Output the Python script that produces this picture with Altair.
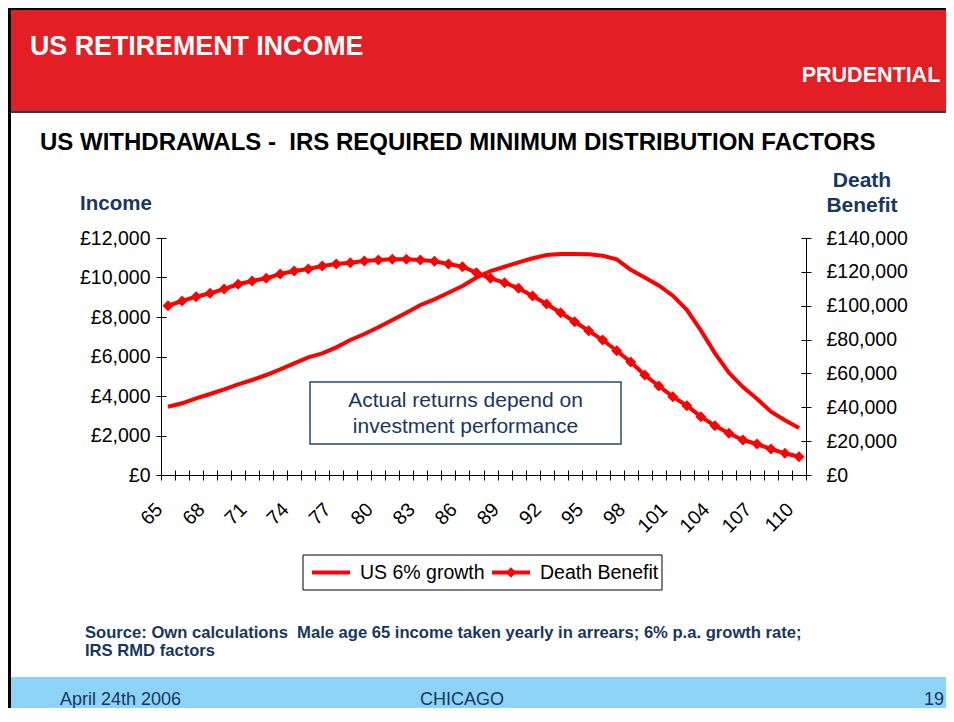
import altair as alt
import pandas as pd

# ---------------- data ----------------
ages = list(range(65, 111))
income = [3458, 3630, 3883, 4101, 4339, 4592, 4810, 5063, 5352, 5655, 5959, 6162,
          6465, 6835, 7139, 7478, 7848, 8217, 8607, 8896, 9230, 9569, 10000,
          10329, 10546, 10769, 10972, 11139, 11189, 11189, 11174, 11103, 10921, 10390,
          10000, 9600, 9080, 8360, 7320, 6170, 5180, 4450, 3860, 3210, 2770, 2385]
death_benefit = [100000, 102780, 105320, 107330, 109870, 112650, 114600, 116190, 118730,
                 120500, 121680, 123460, 124640, 125400, 126410, 127000, 127410, 127410,
                 127000, 126230, 124640, 123040, 119500, 116190, 113590, 110280, 105740,
                 101010, 95870, 90550, 85240, 79740, 73420, 66750, 59070, 52570, 46250,
                 40940, 34440, 29120, 24630, 20670, 18310, 15360, 12820, 10810]
series_names = ["US 6% growth", "Death Benefit"]
income_ticks = [0, 2000, 4000, 6000, 8000, 10000, 12000]
death_ticks = [0, 20000, 40000, 60000, 80000, 100000, 120000, 140000]

NB = "\u00a0"
header_title = "US RETIREMENT INCOME"
logo_text = "PRUDENTIAL"
subtitle = "US WITHDRAWALS -" + NB + " IRS REQUIRED MINIMUM DISTRIBUTION FACTORS"
left_title = "Income"
right_title = ["Death", "Benefit"]
note_lines = ["Actual returns depend on", "investment performance"]
source_lines = ["Source: Own calculations" + NB + " Male age 65 income taken yearly in arrears; 6% p.a. growth rate;",
                "IRS RMD factors"]
footer_left, footer_mid, footer_right = "April 24th 2006", "CHICAGO", "19"

df = pd.DataFrame({"age": ages, "income": income, "death": death_benefit})

FONT = "Liberation Sans"
NAVY = "#17375E"
RED = "#FF0000"
W, H = 645, 237
PAD_L, PAD_T, PAD_R, PAD_B = 153, 230, 140, 233
X0, X1 = -PAD_L, W + PAD_R
Y0, Y1 = -PAD_T, H + PAD_B


def one(text=""):
    return pd.DataFrame({"t": [text]})


def rect(x, x2, y, y2, fill, stroke="transparent", sw=0):
    return alt.Chart(one()).mark_rect(fill=fill, stroke=stroke, strokeWidth=sw).encode(
        x=alt.value(x), x2=alt.value(x2), y=alt.value(y), y2=alt.value(y2))


def text(t, x, y, size, color, weight="normal", align="left"):
    return alt.Chart(one(t)).mark_text(
        align=align, baseline="middle", font=FONT, fontSize=size,
        fontWeight=weight, color=color).encode(
        x=alt.value(x), y=alt.value(y), text="t:N")


def hrule(x, x2, y, color, sw):
    return alt.Chart(one()).mark_rule(color=color, strokeWidth=sw).encode(
        x=alt.value(x), x2=alt.value(x2), y=alt.value(y))


x_scale = alt.Scale(type="band", paddingInner=0, paddingOuter=0)
x_main = alt.X(
    "age:O", scale=x_scale,
    axis=alt.Axis(
        title=None, tickBand="extent", labelAngle=-45, labelAlign="right",
        labelBaseline="middle", labelOverlap=False,
        labelExpr="(datum.value - 65) % 3 == 0 ? datum.label : ''",
        labelPadding=26, labelOffset=-9, tickSize=5, domainColor="black",
        tickColor="black", labelColor="black", labelFont=FONT, labelFontSize=19.5),
)
x_none = alt.X("age:O", scale=x_scale, axis=None)

inc_scale = alt.Scale(domain=[0, 12000], nice=False)
dth_scale = alt.Scale(domain=[0, 140000], nice=False)
money = "'£' + format(datum.value, ',')"

income_line = alt.Chart(df).mark_line(color=RED, strokeWidth=4).encode(
    x=x_main,
    y=alt.Y("income:Q", scale=inc_scale,
            axis=alt.Axis(orient="left", title=None, values=income_ticks,
                          labelExpr=money, tickSize=5, labelPadding=6,
                          domainColor="black", tickColor="black",
                          labelColor="black", labelFont=FONT, labelFontSize=19.5,
                          grid=False)),
)

death_line = alt.Chart(df).mark_line(
    color=RED, strokeWidth=4,
    point=alt.OverlayMarkDef(shape="diamond", size=120, filled=True, color=RED)).encode(
    x=x_none,
    y=alt.Y("death:Q", scale=dth_scale,
            axis=alt.Axis(orient="right", title=None, values=death_ticks,
                          labelExpr=money, tickSize=5, labelPadding=15,
                          domainColor="black", tickColor="black",
                          labelColor="black", labelFont=FONT, labelFontSize=19.5,
                          grid=False)),
)

# inner halves of the crossing tick marks
inner_x = alt.Chart(df).mark_line(opacity=0).encode(
    x=alt.X("age:O", scale=x_scale,
            axis=alt.Axis(orient="top", offset=-H, labels=False, domain=False,
                          tickBand="extent", tickSize=5, tickColor="black", title=None)),
    y=alt.Y("income:Q", scale=inc_scale, axis=None),
)
inner_left = alt.Chart(df).mark_line(opacity=0).encode(
    x=x_none,
    y=alt.Y("income:Q", scale=inc_scale,
            axis=alt.Axis(orient="right", offset=-W, labels=False, domain=False,
                          values=income_ticks, tickSize=5, tickColor="black",
                          title=None, grid=False)),
)
inner_right = alt.Chart(df).mark_line(opacity=0).encode(
    x=x_none,
    y=alt.Y("death:Q", scale=dth_scale,
            axis=alt.Axis(orient="left", offset=-W, labels=False, domain=False,
                          values=death_ticks, tickSize=5, tickColor="black",
                          title=None, grid=False)),
)

layers = [
    # header
    rect(X0, X1, Y0, -127, "#E31E24"),
    rect(X0, X1, -127, -125, "#1F3F5F"),
    rect(X0, X1, Y0, Y0 + 2, "#000000"),
    text(header_title, -131, -191, 26.8, "white", "bold"),
    text(logo_text, 710, -162, 21.5, "white", "bold", "center"),
    # footer
    rect(X0, X1, 439, Y1, "#8DD3F5"),
    rect(X0, X0 + 3, Y0, Y1, "#000000"),
    text(footer_left, -101, 462, 18, NAVY),
    text(footer_mid, 301, 462, 18, NAVY, align="center"),
    text(footer_right, 783, 462, 18, NAVY, align="right"),
    # titles
    text(subtitle, -121, -95, 24, "black", "bold"),
    text(left_title, -45, -34, 20.5, NAVY, "bold", "center"),
    text(right_title[0], 701, -57, 21, NAVY, "bold", "center"),
    text(right_title[1], 701, -32, 21, NAVY, "bold", "center"),
    # annotation box
    rect(149, 460, 144, 206, "white", "#1F4E6E", 1.5),
    text(note_lines[0], 304.5, 163, 21, NAVY, align="center"),
    text(note_lines[1], 304.5, 189, 21, NAVY, align="center"),
    # data
    income_line,
    death_line,
    inner_x,
    inner_left,
    inner_right,
    # legend
    rect(142, 501, 317, 352, "white", "black", 1),
    hrule(151, 189, 334.5, RED, 4),
    text(series_names[0], 199, 334.5, 19.5, "black"),
    hrule(331, 369, 334.5, RED, 4),
    alt.Chart(one()).mark_point(shape="diamond", size=110, filled=True, color=RED,
                                opacity=1).encode(x=alt.value(350), y=alt.value(334.5)),
    text(series_names[1], 379, 334.5, 19.5, "black"),
    # source
    text(source_lines[0], -76, 395, 16.6, NAVY, "bold"),
    text(source_lines[1], -76, 412.5, 16.6, NAVY, "bold"),
]

chart = alt.layer(*layers).resolve_scale(y="independent").resolve_axis(
    x="independent", y="independent").properties(
    width=W, height=H,
    padding={"left": PAD_L, "top": PAD_T, "right": PAD_R, "bottom": PAD_B},
    autosize=alt.AutoSizeParams(type="none"),
    background="white",
).configure_view(strokeWidth=0)

chart.save("out.html", embed_options={"renderer": "svg", "actions": False})
